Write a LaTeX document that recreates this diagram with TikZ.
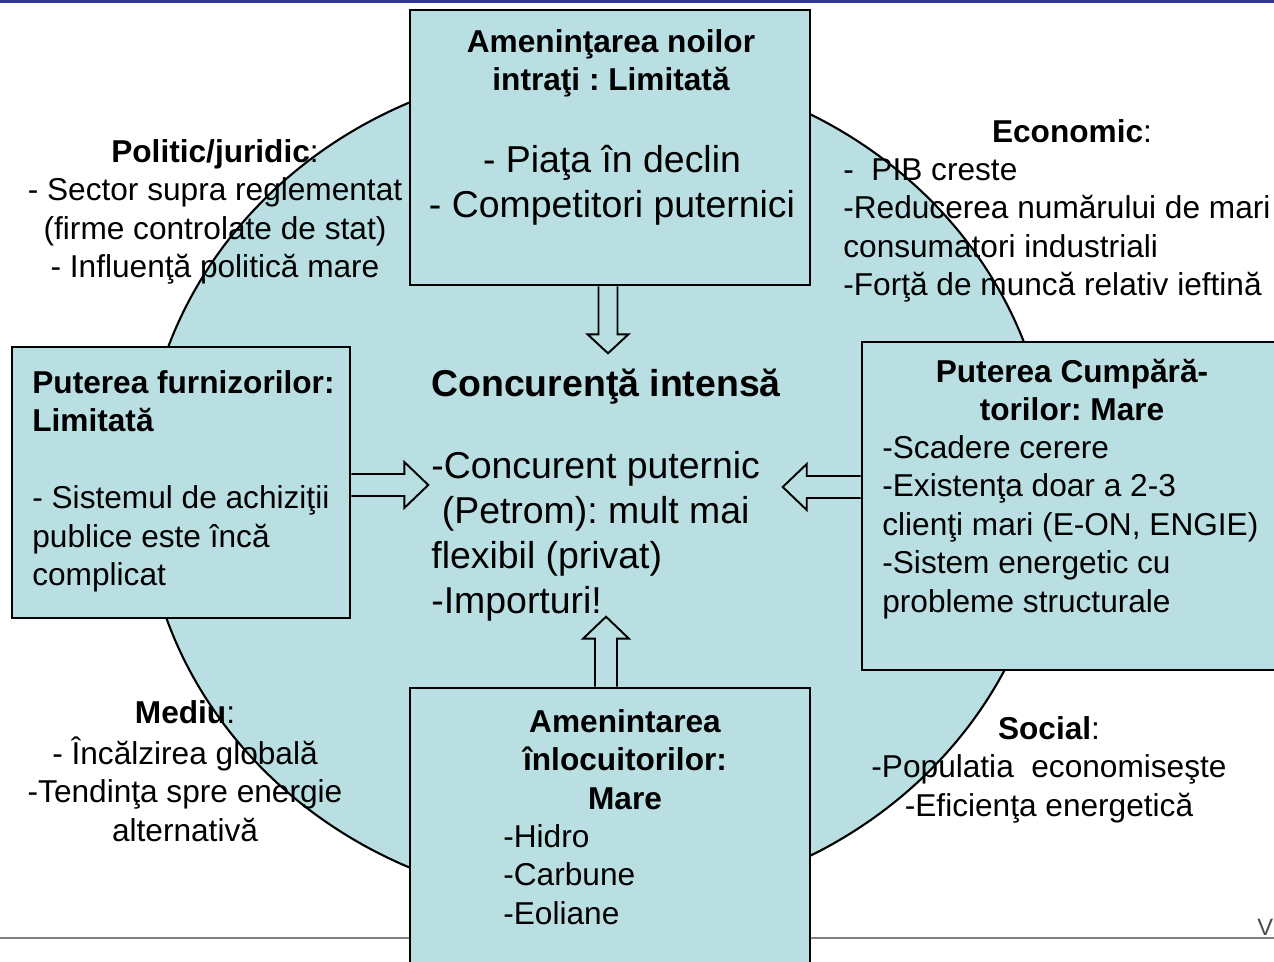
\documentclass[tikz,border=0pt]{standalone}
\usepackage{fontspec}
\setmainfont{Liberation Sans}
\usetikzlibrary{calc}
\frenchspacing

\definecolor{forcefill}{RGB}{185,223,227}
\definecolor{titlebar}{RGB}{51,51,153}
\newcommand\normsz{\fontsize{18}{21.9}\selectfont}
\newcommand\bigsz{\fontsize{21.3}{25.6}\selectfont}

\pgfdeclarelayer{back}
\pgfdeclarelayer{mid}
\pgfsetlayers{back,mid,main}

\begin{document}
\begin{tikzpicture}[x=0.02cm, y=-0.02cm,
    forcebox/.style={draw, line width=1.5pt, fill=forcefill},
    barrow/.style={draw, line width=1.1pt, fill=forcefill, line join=miter},
    txt/.style={inner sep=0pt, font=\normsz},
    bigtxt/.style={inner sep=0pt, font=\bigsz}]
    \useasboundingbox (0,0) rectangle (1274,962);
    \clip (0,0) rectangle (1274,962);

    \begin{pgfonlayer}{back}
    \fill[titlebar] (0,0) rectangle (1274,3.5);
    \draw[gray, line width=1.1pt] (0,938) -- (1274,938);
    \draw[fill=forcefill, line width=1.2pt] (597,485) ellipse [x radius=9.08cm, y radius=8.4cm];
    \end{pgfonlayer}

    \node[anchor=base west, inner sep=0pt, text=gray!60!black, font=\fontsize{13.5}{16}\selectfont] (pagemark) at (1257,935) {V};

    % the five forces
    \node[forcebox, minimum width=8cm, minimum height=5.5cm] (newbox) at (610,147.5) {};
    \node[forcebox, minimum width=6.76cm, minimum height=5.42cm] (supbox) at (181,482.5) {};
    \node[forcebox, minimum width=8.56cm, minimum height=6.56cm] (buybox) at (1076,506) {};
    \node[forcebox, minimum width=8cm, minimum height=6.24cm] (subbox) at (610,844) {};

    \begin{pgfonlayer}{mid}
    \draw[barrow] ($(newbox.south)+(-11.5,0)$) -- ++(0,48) -- ++(-11,0) -- ++(20.5,19) -- ++(20.5,-19) -- ++(-11,0) -- ++(0,-48);
    \draw[barrow] ($(supbox.east)+(0,-8.5)$) -- ++(53,0) -- ++(0,-12) -- ++(24,23) -- ++(-24,23) -- ++(0,-12) -- ++(-53,0);
    \draw[barrow] ($(buybox.west)+(0,-30)$) -- ++(-54,0) -- ++(0,-12) -- ++(-24,23) -- ++(24,23) -- ++(0,-12) -- ++(54,0);
    \draw[barrow] ($(subbox.north)+(-15,0)$) -- ++(0,-48) -- ++(-12,0) -- ++(23,-22) -- ++(23,22) -- ++(-12,0) -- ++(0,48);
    \end{pgfonlayer}

    \node[txt, font=\normsz\bfseries, align=center, anchor=north] (newtitle) at (611,25) {\strut Ameninţarea noilor\\intraţi : Limitată};
    \node[bigtxt, align=center, anchor=north] (newtext) at (612,140.5) {\strut - Piaţa în declin\\- Competitori puternici};

    \node[bigtxt, font=\bigsz\bfseries, anchor=north west] (conctitle) at (431,364.5) {\strut Concurenţă intensă};
    \node[bigtxt, align=left, anchor=north west] (conctext) at (431,446.5) {\strut -Concurent puternic\\\hspace*{.28em}(Petrom): mult mai\\flexibil (privat)\\-Importuri!};

    \node[txt, align=left, anchor=north west] (suptext) at (32,366) {\strut\textbf{Puterea furnizorilor:}\\\textbf{Limitată}\\[21.9pt]- Sistemul de achiziţii\\publice este încă\\complicat};

    \node[txt, font=\normsz\bfseries, align=center, anchor=north] (buytitle) at (1072,355) {\strut Puterea Cumpără-\\torilor: Mare};
    \node[txt, align=left, anchor=north west] (buytext) at (882,431) {\strut -Scadere cerere\\-Existenţa doar a 2-3\\clienţi mari (E-ON, ENGIE)\\-Sistem energetic cu\\probleme structurale};

    \node[txt, font=\normsz\bfseries, align=center, anchor=north] (subtitle) at (625,705) {\strut Amenintarea\\înlocuitorilor:\\Mare};
    \node[txt, align=left, anchor=north west] (subtext) at (503,820) {\strut -Hidro\\-Carbune\\-Eoliane};

    % PEST factors around the circle
    \node[txt, align=center, anchor=north] (polit) at (215,135) {\strut\textbf{Politic/juridic}:\\- Sector supra reglementat\\(firme controlate de stat)\\- Influenţă politică mare};
    \node[txt, anchor=north] (econtitle) at (1072,115) {\strut\textbf{Economic}:};
    \node[txt, align=left, anchor=north west] (econtext) at (843,153) {\strut -\ \ PIB creste\\-Reducerea numărului de mari\\consumatori industriali\\-Forţă de muncă relativ ieftină};
    \node[txt, align=center, anchor=north] (mediu) at (185,696) {\strut\textbf{Mediu}:\\- Încălzirea globală\\-Tendinţa spre energie\\alternativă};
    \node[txt, align=center, anchor=north] (social) at (1049,712) {\strut\textbf{Social}:\\-Populatia\ \ economiseşte\\-Eficienţa energetică};
\end{tikzpicture}
\end{document}
